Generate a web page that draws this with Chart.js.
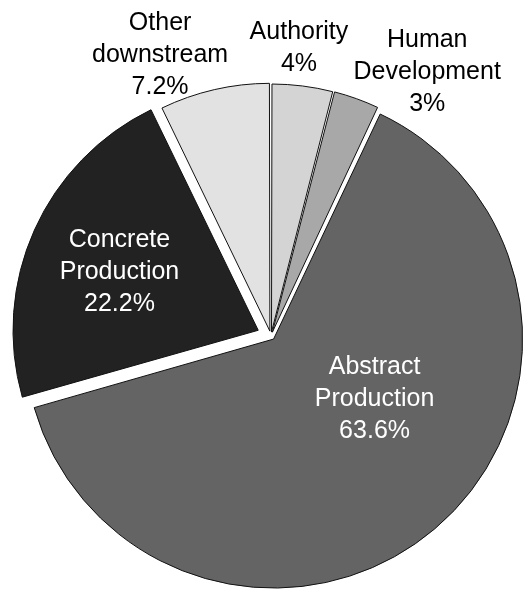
<!DOCTYPE html>
<html>
<head>
<meta charset="utf-8">
<script src="https://cdn.jsdelivr.net/npm/chart.js@4.4.1/dist/chart.umd.min.js"></script>
<style>
  html,body{margin:0;padding:0;background:#fff;}
  #wrap{width:523px;height:590px;position:relative;}
</style>
</head>
<body>
<div id="wrap"><canvas id="pieChart"></canvas></div>
<script>
// slices clockwise from 12 o'clock
const categories=[['Authority'],['Human','Development'],['Abstract','Production'],['Concrete','Production'],['Other','downstream']];
const shares=[4,3,63.6,22.2,7.2];
const shareLabels=['4%','3%','63.6%','22.2%','7.2%'];

const sliceColors=['#d4d4d4','#a8a8a8','#646464','#222222','#e2e2e2'];
const textColors=['#000','#000','#fff','#fff','#000'];

// label placement: distance as fraction of radius, turn in degrees from slice middle
const labelPlace={
  dist:[1.19,1.26,0.49,0.675,1.24],
  turn:[-1.7,10.6,-19.3,-0.5,-8.45]
};

const sliceLabels={
  id:'sliceLabels',
  afterDatasetsDraw(chart){
    const ctx=chart.ctx;
    const meta=chart.getDatasetMeta(0);
    const lh=32, capH=18;
    ctx.save();
    ctx.font='25px "Liberation Sans", Arial, sans-serif';
    ctx.textAlign='center';
    ctx.textBaseline='alphabetic';
    meta.data.forEach((arc,i)=>{
      const p=arc.getProps(['x','y','startAngle','endAngle','outerRadius'],true);
      const a=(p.startAngle+p.endAngle)/2+labelPlace.turn[i]*Math.PI/180;
      const r=p.outerRadius*labelPlace.dist[i];
      const cx=p.x+Math.cos(a)*r, cy=p.y+Math.sin(a)*r;
      const lines=[...categories[i],shareLabels[i]];
      ctx.fillStyle=textColors[i];
      lines.forEach((t,k)=>{
        const y=cy+(k-(lines.length-1)/2)*lh+capH/2;
        ctx.fillText(t,cx,y);
      });
    });
    ctx.restore();
  }
};

const ctx1=document.getElementById('pieChart').getContext('2d');
new Chart(ctx1,{
  type:'pie',
  data:{
    labels:categories.map(c=>c.join(' ')),
    datasets:[{
      data:shares,
      backgroundColor:sliceColors,
      borderColor:'#111',
      borderWidth:1,
      borderJoinStyle:'miter',
      offset:[16,16,16,56,20]
    }]
  },
  options:{
    responsive:true,
    maintainAspectRatio:false,
    animation:false,
    radius:245,
    layout:{padding:{left:19,right:0,top:82,bottom:0}},
    plugins:{legend:{display:false},tooltip:{enabled:false}}
  },
  plugins:[sliceLabels]
});
</script>
</body>
</html>
